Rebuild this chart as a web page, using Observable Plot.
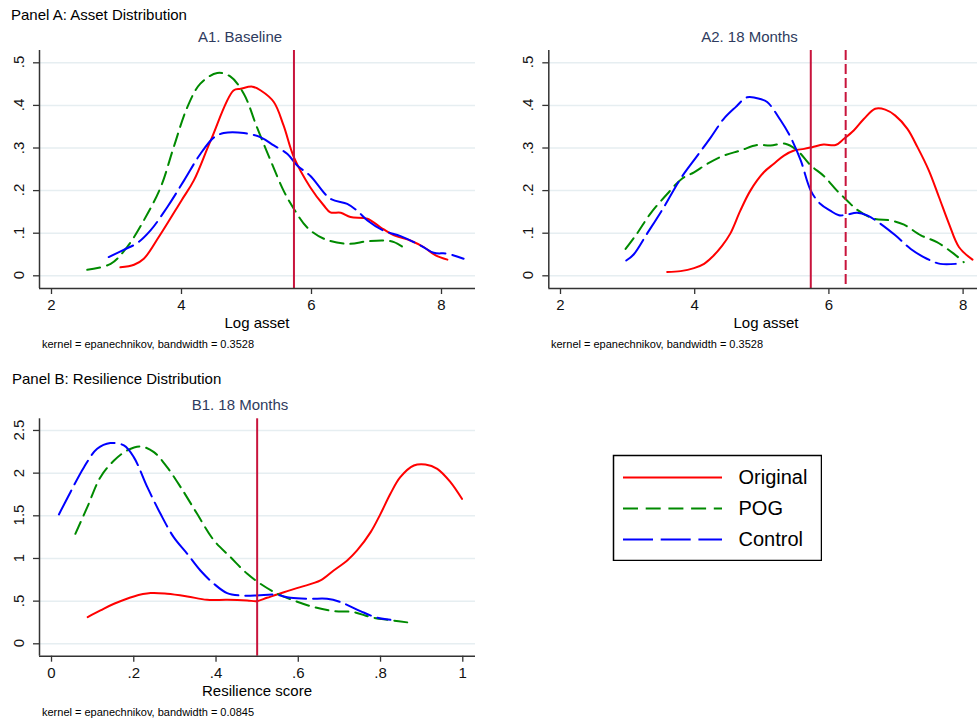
<!DOCTYPE html>
<html>
<head>
<meta charset="utf-8">
<script src="https://cdn.jsdelivr.net/npm/d3@7"></script>
<script src="https://cdn.jsdelivr.net/npm/@observablehq/plot@0.6"></script>
<style>
  body { margin: 0; background: #fff; }
  #page { position: relative; width: 977px; height: 723px; overflow: hidden; background: #fff;
          font-family: Arial, "Liberation Sans", Helvetica, sans-serif; }
  .abs { position: absolute; white-space: nowrap; line-height: 1; }
  .ptitle { font-size: 15px; color: #000; }
  .sub { font-size: 15px; color: #2e3b5e; transform: translateX(-50%); }
  .xl { font-size: 15px; color: #000; transform: translateX(-50%); }
  .cap { font-size: 11px; color: #000; }
  .yt { font-size: 15px; color: #111; transform: translate(-50%, -50%) rotate(-90deg); }
  svg.pnl text { font-size: 15px; font-family: Arial, "Liberation Sans", Helvetica, sans-serif; }
  svg.lgd text { font-size: 20px; font-family: Arial, "Liberation Sans", Helvetica, sans-serif; }
</style>
</head>
<body>
<div id="page"></div>
<script>
// ---------- data ----------
const seriesNames = ["Original", "POG", "Control"];
const seriesColors = ["#ff0000", "#008a00", "#0000ff"];

const assetTicks = [2, 4, 6, 8];
const assetTickLabels = ["2", "4", "6", "8"];
const densTicks = [0, 0.1, 0.2, 0.3, 0.4, 0.5];
const densTickLabels = ["0", ".1", ".2", ".3", ".4", ".5"];
const resTicks = [0, 0.2, 0.4, 0.6, 0.8, 1];
const resTickLabels = ["0", ".2", ".4", ".6", ".8", "1"];
const resDensTicks = [0, 0.5, 1, 1.5, 2, 2.5];
const resDensTickLabels = ["0", ".5", "1", "1.5", "2", "2.5"];

// reference lines
const a1Lines = [5.73];
const a2SolidLines = [5.73];
const a2DashedLines = [6.25];
const b1Lines = [0.5];

// A1 Baseline: [log asset, density]
const a1Original = [[3.06,0.020],[3.27,0.026],[3.42,0.040],[3.65,0.091],[4.00,0.177],[4.19,0.224],[4.45,0.318],[4.80,0.435],[4.91,0.439],[5.09,0.444],[5.22,0.435],[5.42,0.408],[5.57,0.353],[5.73,0.278],[5.98,0.208],[6.19,0.165],[6.29,0.149],[6.45,0.148],[6.60,0.138],[6.86,0.134],[7.06,0.114],[7.27,0.095],[7.52,0.083],[7.73,0.067],[7.91,0.048],[8.09,0.038]];
const a1POG = [[2.55,0.014],[2.91,0.028],[3.16,0.067],[3.42,0.130],[3.68,0.208],[3.88,0.302],[4.09,0.396],[4.29,0.451],[4.55,0.476],[4.75,0.468],[4.96,0.427],[5.16,0.349],[5.37,0.271],[5.57,0.200],[5.73,0.157],[5.93,0.114],[6.19,0.087],[6.55,0.075],[6.86,0.081],[7.11,0.083],[7.27,0.079],[7.45,0.063]];
const a1Control = [[2.88,0.044],[3.11,0.061],[3.32,0.077],[3.52,0.106],[3.78,0.161],[4.04,0.224],[4.29,0.286],[4.50,0.325],[4.65,0.335],[4.96,0.335],[5.22,0.325],[5.42,0.306],[5.63,0.286],[5.78,0.259],[5.98,0.235],[6.29,0.181],[6.55,0.169],[6.70,0.153],[6.86,0.130],[7.11,0.106],[7.37,0.093],[7.68,0.071],[7.88,0.054],[8.09,0.052],[8.34,0.040]];

// A2 18 Months
const a2Original = [[3.59,0.009],[3.79,0.011],[3.99,0.018],[4.14,0.028],[4.26,0.044],[4.41,0.071],[4.53,0.099],[4.68,0.153],[4.83,0.200],[5.03,0.243],[5.18,0.263],[5.33,0.282],[5.48,0.294],[5.63,0.298],[5.75,0.302],[5.92,0.308],[6.10,0.307],[6.22,0.321],[6.37,0.341],[6.52,0.368],[6.69,0.392],[6.84,0.390],[6.99,0.376],[7.17,0.345],[7.32,0.302],[7.49,0.247],[7.64,0.185],[7.79,0.122],[7.94,0.067],[8.14,0.038]];
const a2POG = [[2.97,0.063],[3.14,0.099],[3.34,0.146],[3.59,0.192],[3.81,0.228],[3.99,0.243],[4.19,0.263],[4.43,0.282],[4.68,0.294],[4.93,0.307],[5.13,0.306],[5.35,0.310],[5.53,0.294],[5.73,0.259],[5.92,0.235],[6.12,0.200],[6.27,0.177],[6.42,0.155],[6.67,0.134],[6.92,0.130],[7.12,0.120],[7.37,0.095],[7.61,0.079],[7.86,0.052],[8.01,0.032]];
const a2Control = [[2.98,0.036],[3.09,0.050],[3.29,0.099],[3.54,0.161],[3.79,0.228],[4.04,0.282],[4.24,0.325],[4.43,0.368],[4.61,0.396],[4.78,0.419],[4.98,0.415],[5.08,0.408],[5.28,0.365],[5.43,0.325],[5.58,0.271],[5.73,0.200],[5.87,0.169],[6.02,0.153],[6.15,0.142],[6.25,0.143],[6.42,0.148],[6.57,0.142],[6.77,0.122],[6.99,0.095],[7.22,0.063],[7.46,0.040],[7.66,0.028],[7.89,0.028]];

// B1 18 Months: [resilience score, density]
const b1Original = [[0.088,0.313],[0.119,0.391],[0.152,0.469],[0.200,0.555],[0.241,0.594],[0.281,0.586],[0.330,0.555],[0.378,0.516],[0.427,0.516],[0.476,0.508],[0.500,0.500],[0.524,0.539],[0.565,0.605],[0.605,0.664],[0.654,0.742],[0.686,0.859],[0.719,0.977],[0.743,1.094],[0.776,1.309],[0.800,1.523],[0.824,1.758],[0.848,1.953],[0.881,2.090],[0.909,2.102],[0.938,2.051],[0.970,1.895],[0.998,1.699]];
const b1POG = [[0.058,1.289],[0.087,1.602],[0.119,1.953],[0.152,2.148],[0.184,2.266],[0.216,2.313],[0.249,2.246],[0.281,2.070],[0.314,1.836],[0.354,1.523],[0.395,1.211],[0.435,1.016],[0.476,0.820],[0.508,0.703],[0.549,0.586],[0.589,0.508],[0.638,0.430],[0.686,0.383],[0.735,0.371],[0.776,0.313],[0.816,0.281],[0.881,0.242]];
const b1Control = [[0.018,1.516],[0.046,1.777],[0.079,2.070],[0.111,2.285],[0.143,2.352],[0.176,2.324],[0.200,2.188],[0.233,1.836],[0.265,1.523],[0.297,1.250],[0.330,1.055],[0.362,0.859],[0.395,0.703],[0.427,0.594],[0.459,0.566],[0.500,0.566],[0.541,0.578],[0.581,0.539],[0.629,0.527],[0.670,0.527],[0.703,0.488],[0.751,0.383],[0.792,0.305],[0.824,0.281]];

// ---------- drawing ----------
const page = document.getElementById("page");
const FONT = 'Arial, "Liberation Sans", Helvetica, sans-serif';
const AXIS = "#333333";
const GRID = "#e6eef1";
const REF = "#c8143c";
const DASH = {Original: null, POG: "13,7", Control: "27,7"};

function place(el, left, top) {
  const d = document.createElement("div");
  d.style.position = "absolute"; d.style.left = left + "px"; d.style.top = top + "px";
  d.appendChild(el); page.appendChild(d);
}
function label(cls, text, left, top) {
  const d = document.createElement("div");
  d.className = "abs " + cls; d.textContent = text;
  d.style.left = left + "px"; d.style.top = top + "px";
  page.appendChild(d);
}

function panel({left, top, width, height, margins, xDomain, yDomain, xTicks, xLabels, yTicks, yLabels, series, solid, dashed}) {
  const [mt, mr, mb, ml] = margins;
  const curveMarks = series.map((data, i) => Plot.line(data, {
    x: d => d[0], y: d => d[1], stroke: seriesColors[i], strokeWidth: 2,
    strokeDasharray: DASH[seriesNames[i]] || undefined, curve: "catmull-rom"
  }));
  const chart = Plot.plot({
    className: "pnl",
    width, height, marginTop: mt, marginRight: mr, marginBottom: mb, marginLeft: ml,
    style: {fontFamily: FONT, fontSize: "15px", background: "transparent", overflow: "visible"},
    x: {domain: xDomain},
    y: {domain: yDomain},
    marks: [
      Plot.gridY(yTicks, {stroke: GRID, strokeOpacity: 1, strokeWidth: 1.5}),
      ...curveMarks,
      Plot.ruleX(solid, {stroke: REF, strokeWidth: 2}),
      Plot.ruleX(dashed, {stroke: REF, strokeWidth: 2, strokeDasharray: "10,4"}),
      Plot.ruleX([xDomain[0]], {stroke: AXIS, strokeWidth: 1.5}),
      Plot.ruleY([yDomain[0]], {stroke: AXIS, strokeWidth: 1.5}),
      Plot.axisY(yTicks, {tickSize: 6, tickFormat: () => "", stroke: AXIS, strokeWidth: 1.3, label: null}),
      Plot.axisX(xTicks, {tickSize: 6, tickPadding: 5, tickFormat: (d, i) => xLabels[i], stroke: AXIS, strokeWidth: 1.3, fill: "#111", fontSize: 15, label: null})
    ]
  });
  place(chart, left, top);
  // rotated y tick labels, positioned with the chart's own y scale
  const ys = chart.scale("y");
  yTicks.forEach((t, i) => {
    const d = document.createElement("div");
    d.className = "abs yt"; d.textContent = yLabels[i];
    d.style.left = (left + ml - 21.5) + "px";
    d.style.top = (top + ys.apply(t)) + "px";
    page.appendChild(d);
  });
  return chart;
}

// Panel A titles
label("ptitle", "Panel A: Asset Distribution", 11, 6.5);
label("sub", "A1. Baseline", 240, 29);
label("sub", "A2. 18 Months", 749.5, 29);

panel({
  left: 0, top: 0, width: 490, height: 315, margins: [50, 15, 27, 39],
  xDomain: [1.8154, 8.523], yDomain: [-0.0298, 0.5289],
  xTicks: assetTicks, xLabels: assetTickLabels, yTicks: densTicks, yLabels: densTickLabels,
  series: [a1Original, a1POG, a1Control], solid: a1Lines, dashed: []
});

panel({
  left: 490, top: 0, width: 487, height: 315, margins: [50, 0, 27, 58.3],
  xDomain: [1.8256, 8.2146], yDomain: [-0.0298, 0.5289],
  xTicks: assetTicks, xLabels: assetTickLabels, yTicks: densTicks, yLabels: densTickLabels,
  series: [a2Original, a2POG, a2Control], solid: a2SolidLines, dashed: a2DashedLines
});

label("xl", "Log asset", 257, 314.8);
label("xl", "Log asset", 766, 314.8);
label("cap", "kernel = epanechnikov, bandwidth = 0.3528", 42, 339.4);
label("cap", "kernel = epanechnikov, bandwidth = 0.3528", 551, 339.4);

// Panel B
label("ptitle", "Panel B: Resilience Distribution", 12, 371.3);
label("sub", "B1. 18 Months", 240, 397.3);

panel({
  left: 0, top: 360, width: 490, height: 340, margins: [58.3, 15, 44.3, 39],
  xDomain: [-0.0292, 1.0309], yDomain: [-0.1453, 2.6368],
  xTicks: resTicks, xLabels: resTickLabels, yTicks: resDensTicks, yLabels: resDensTickLabels,
  series: [b1Original, b1POG, b1Control], solid: b1Lines, dashed: []
});

label("xl", "Resilience score", 257, 683.3);
label("cap", "kernel = epanechnikov, bandwidth = 0.0845", 42, 707.4);

// Legend
const legendDash = {Original: null, POG: "15,7.7", Control: "30,7.7"};
const legend = Plot.plot({
  className: "lgd",
  width: 210, height: 107, margin: 1,
  style: {fontFamily: FONT, background: "#fff"},
  x: {domain: [0, 208], axis: null},
  y: {type: "point", domain: seriesNames, range: [22, 85], padding: 0, axis: null},
  marks: [
    ...seriesNames.map((name, i) => Plot.ruleY([name], {
      y: d => d, x1: 10, x2: 109, stroke: seriesColors[i], strokeWidth: 2,
      strokeDasharray: legendDash[name] || undefined
    })),
    Plot.text(seriesNames, {y: d => d, x: 125, text: d => d, textAnchor: "start", fontSize: 20, fill: "#000"}),
    Plot.frame({stroke: "#000", strokeWidth: 1.5})
  ]
});
place(legend, 612, 454);
</script>
</body>
</html>
